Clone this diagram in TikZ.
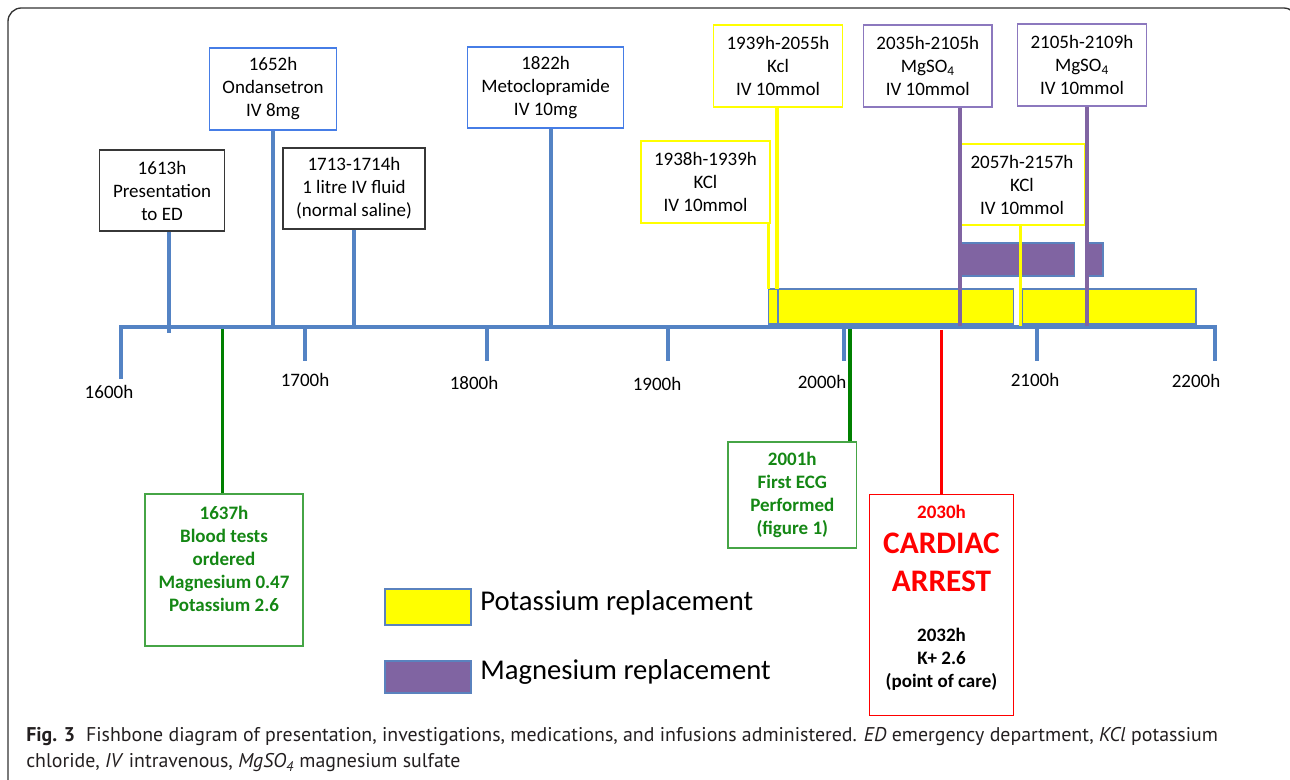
\documentclass[tikz,border=0pt]{standalone}
\usepackage{fontspec}
\setmainfont{Carlito}
\newfontfamily\capfont{PT Sans}
\usetikzlibrary{calc}
\definecolor{axisblue}{RGB}{84,131,196}
\definecolor{boxblue}{RGB}{70,125,230}
\definecolor{boxgray}{RGB}{55,55,55}
\definecolor{kyellow}{RGB}{255,255,0}
\definecolor{mpurple}{RGB}{128,100,162}
\definecolor{mboxpurple}{RGB}{140,120,190}
\definecolor{dgreen}{RGB}{0,128,0}
\definecolor{tgreen}{RGB}{20,135,20}
\definecolor{bgreen}{RGB}{70,165,70}
\definecolor{barline}{RGB}{90,130,190}
\definecolor{framegray}{RGB}{50,50,50}
\definecolor{captext}{RGB}{35,31,32}
\tikzset{
  bx/.style 2 args={draw, line width=1.1pt, inner sep=0pt, align=center,
    minimum width=#1*0.75pt, minimum height=#2*0.75pt,
    font=\fontsize{14.25pt}{17.25pt}\selectfont},
  bluestem/.style={axisblue, line width=2.3pt},
  ystem/.style={kyellow, line width=2.3pt},
  pstem/.style={mpurple, line width=2.3pt},
  gstem/.style={dgreen, line width=2.3pt},
  rstem/.style={red, line width=2.3pt},
  ticklab/.style={font=\fontsize{14.25pt}{17.25pt}\selectfont, inner sep=0pt},
  ybar/.style={fill=kyellow, draw=barline, line width=1pt},
  pbar/.style={fill=mpurple, draw=barline, line width=1pt},
  legtext/.style={font=\fontsize{21.5pt}{25pt}\selectfont, anchor=west, inner sep=0pt},
  captxt/.style={font=\capfont\fontsize{14.9pt}{17pt}\selectfont, text=captext, anchor=west, inner sep=0pt}
}
\begin{document}
\begin{tikzpicture}[x=0.75pt,y=-0.75pt]
\useasboundingbox (0,0) rectangle (1290,780);
\begin{scope}
\clip (0,0) rectangle (1290,780);
\draw[framegray, line width=1pt, rounded corners=10pt] (8,8) rectangle (1297,805);
\end{scope}

% axis coordinates
\coordinate (a1600) at (121,327);
\coordinate (a2200) at (1215,327);
\coordinate (a1613) at (169,333);
\coordinate (a1652) at (273,327);
\coordinate (a1713) at (354,328);
\coordinate (a1822) at (551,327);
\coordinate (a1938) at (768.6,289);
\coordinate (a1939) at (777,289);
\coordinate (a2035) at (960,326);
\coordinate (a2105) at (1087,326);
\coordinate (a2057) at (1020.7,326);
\coordinate (a1637) at (222.5,329);
\coordinate (a2001) at (850,329);
\coordinate (a2030) at (941.5,330);

% boxes above
\node[bx={125}{81}, draw=boxgray] (pres) at (162,190.5) {1613h\\Presentation\\to ED};
\node[bx={127}{82}, draw=boxblue] (ond) at (273,89) {1652h\\Ondansetron\\IV 8mg};
\node[bx={142}{81}, draw=boxgray] (ivf) at (354,188.5) {1713-1714h\\1 litre IV fluid\\(normal saline)};
\node[bx={156}{81}, draw=boxblue] (meto) at (545.6,87.5) {1822h\\Metoclopramide\\IV 10mg};
\node[bx={129}{82}, draw=kyellow] (k1) at (705.5,182) {1938h-1939h\\KCl\\IV 10mmol};
\node[bx={128.5}{82}, draw=kyellow] (k2) at (778,66) {1939h-2055h\\Kcl\\IV 10mmol};
\node[bx={128.4}{82}, draw=mboxpurple] (mg1) at (927.8,66) {2035h-2105h\\MgSO\textsubscript{4}\\IV 10mmol};
\node[bx={129}{82}, draw=mboxpurple] (mg2) at (1082,65) {2105h-2109h\\MgSO\textsubscript{4}\\IV 10mmol};
\node[bx={125.5}{81}, draw=kyellow] (k3) at (1022,184.5) {2057h-2157h\\KCl\\IV 10mmol};

% bars
\draw[ybar] (768.6,289) rectangle (778,324);
\draw[ybar] (778,289) rectangle (1013.4,324);
\draw[ybar] (1022,289) rectangle (1196,324);
\draw[pbar] (960.7,243) rectangle (1074.4,276);
\draw[pbar] (1087,243) rectangle (1103,276);

% axis and ticks
\draw[bluestem, line width=2.8pt, line join=miter] (121,379) -- (a1600) -- (a2200) -- (1215,361);
\foreach \x in {305, 487, 668, 844, 1037}{
  \draw[bluestem] (\x,327) -- (\x,361);
}
\node[ticklab] (l1600) at (109,392) {1600h};
\node[ticklab] (l1700) at (305,380) {1700h};
\node[ticklab] (l1800) at (474,383) {1800h};
\node[ticklab] (l1900) at (657,384) {1900h};
\node[ticklab] (l2000) at (822,382) {2000h};
\node[ticklab] (l2100) at (1035,380) {2100h};
\node[ticklab] (l2200) at (1196,381) {2200h};

% stems above
\draw[bluestem] (pres.south -| a1613) -- (a1613);
\draw[bluestem] (ond.south -| a1652) -- (a1652);
\draw[bluestem] (ivf.south -| a1713) -- (a1713);
\draw[bluestem] (meto.south -| a1822) -- (a1822);
\draw[ystem] (k1.south -| a1938) -- (a1938);
\draw[ystem] (k2.south -| a1939) -- (a1939);
\draw[ystem] (k3.south -| a2057) -- (a2057);
\draw[pstem] (mg1.south -| a2035) -- (a2035);
\draw[pstem] (mg2.south -| a2105) -- (a2105);

% boxes below
\node[bx={158}{152}, draw=bgreen, text=tgreen, font=\fontsize{14.25pt}{17.25pt}\selectfont\bfseries] (blood) at (224,570)
  {1637h\\Blood tests\\ordered\\Magnesium 0.47\\Potassium 2.6\\\mbox{}};
\node[bx={128.6}{106}, draw=bgreen, text=tgreen, font=\fontsize{14.25pt}{17.25pt}\selectfont\bfseries] (ecg) at (792.3,495)
  {2001h\\First ECG\\Performed\\(figure 1)};
\node[bx={144}{221}, draw=red] (arrest) at (941.5,605) {};
\node[red, inner sep=0pt, font=\fontsize{14.25pt}{17.25pt}\selectfont\bfseries] (ar1) at (941.5,512) {2030h};
\node[red, inner sep=0pt, font=\fontsize{23.5pt}{28pt}\selectfont\bfseries] (ar2) at (941.5,543) {CARDIAC};
\node[red, inner sep=0pt, font=\fontsize{23.5pt}{28pt}\selectfont\bfseries] (ar3) at (941.5,581) {ARREST};
\node[inner sep=0pt, align=center, font=\fontsize{14.25pt}{17.25pt}\selectfont\bfseries] (ar4) at (941.5,659) {2032h\\K+ 2.6\\(point of care)};

\draw[gstem] (a1637) -- (blood.north -| a1637);
\draw[gstem] (a2001) -- (ecg.north -| a2001);
\draw[rstem] (a2030) -- (arrest.north -| a2030);

% legend
\draw[ybar] (385,589) rectangle (471,625);
\draw[pbar] (385,661) rectangle (471,693);
\node[legtext] (legk) at (480,603) {Potassium replacement};
\node[legtext] (legm) at (480,672) {Magnesium replacement};

% caption
\node[captxt] (cap1) at (26,737) {\textbf{Fig. 3}\hspace{0.55em}Fishbone diagram of presentation, investigations, medications, and infusions administered. \textit{ED} emergency department, \textit{KCl} potassium};
\node[captxt] (cap2) at (26,763) {chloride, \textit{IV} intravenous, \textit{MgSO\textsubscript{4}} magnesium sulfate};
\end{tikzpicture}
\end{document}
